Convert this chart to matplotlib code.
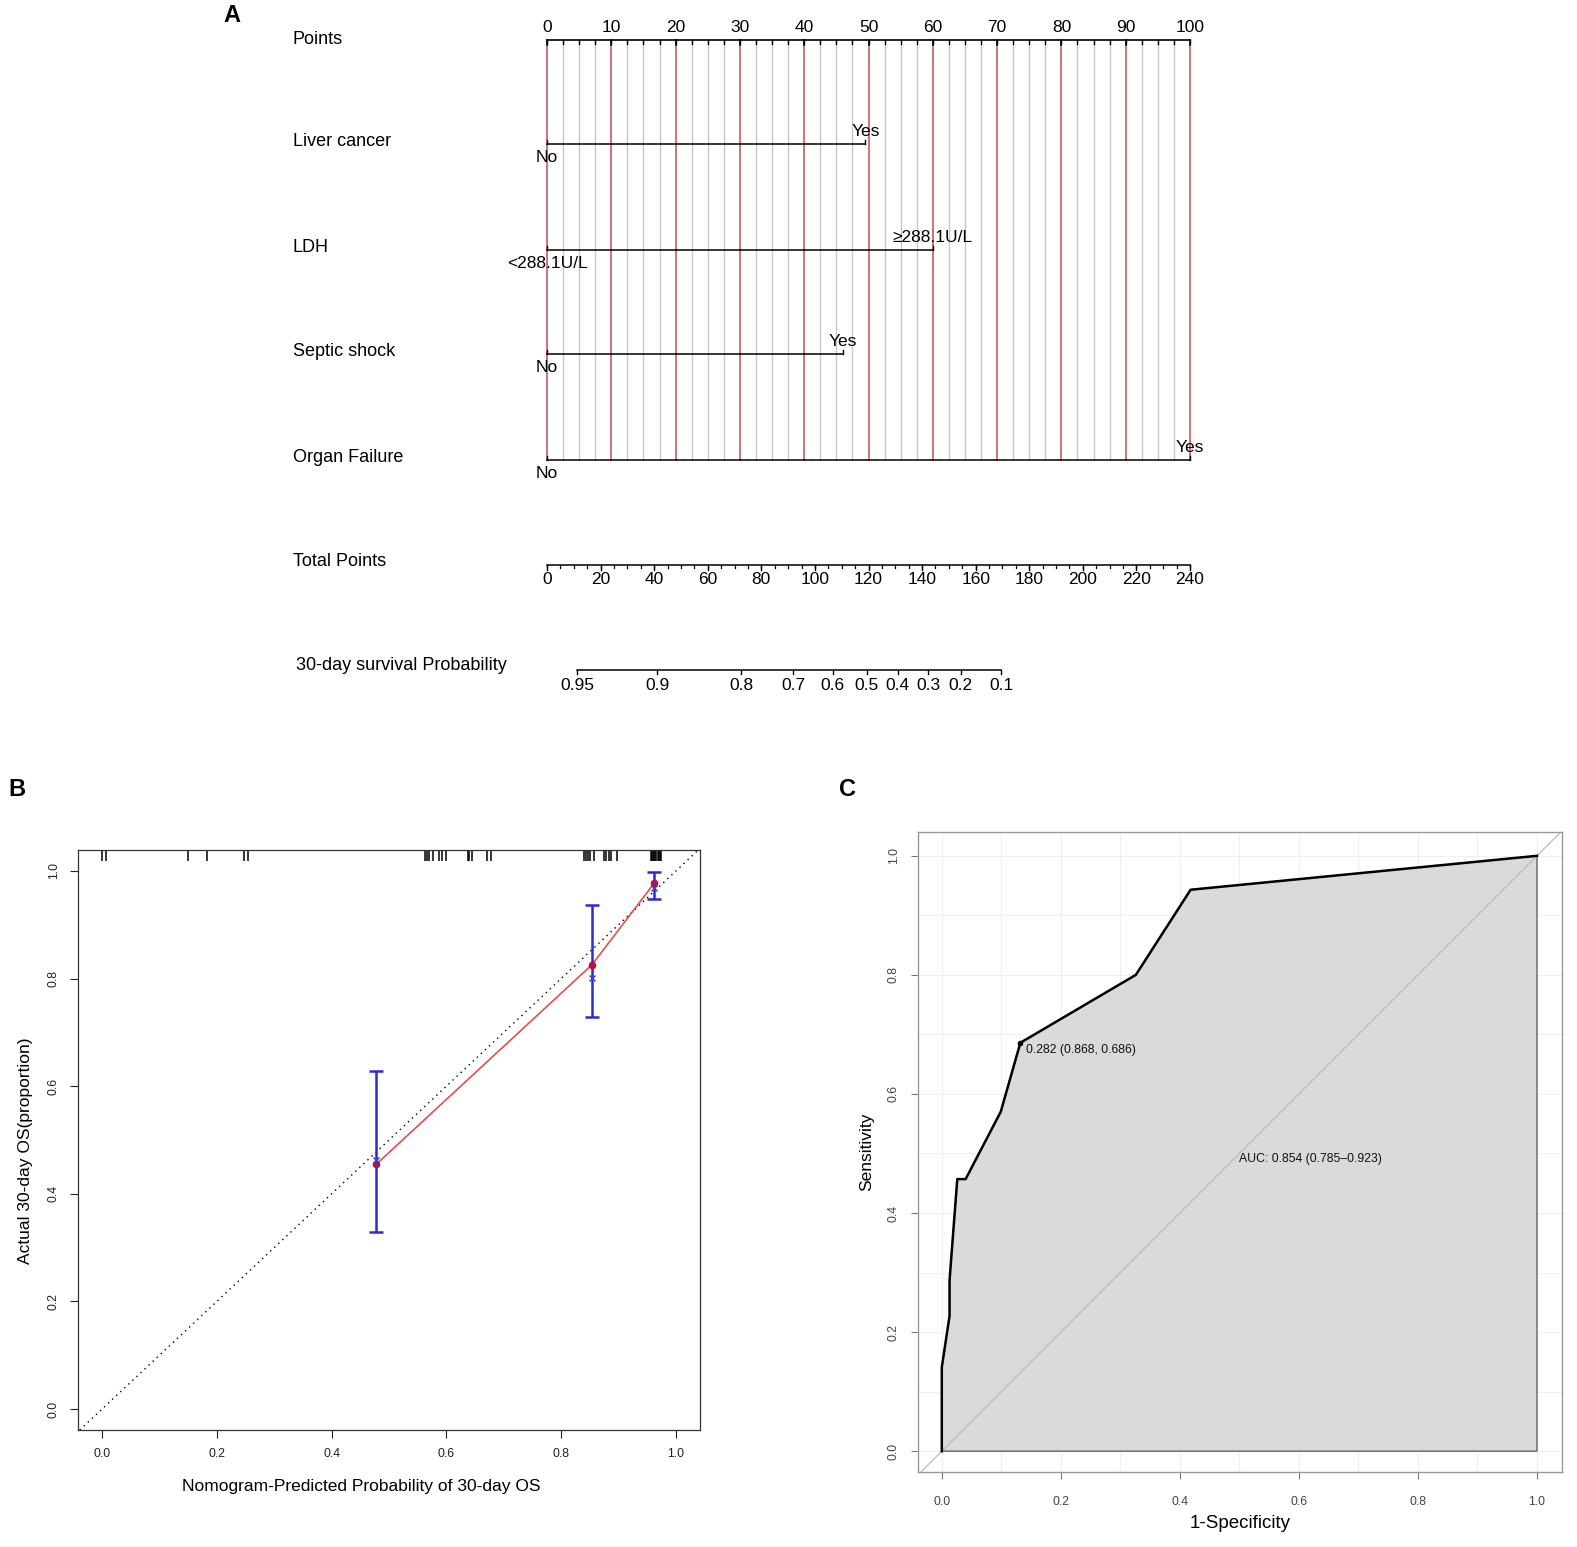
import matplotlib
matplotlib.use("Agg")
import matplotlib.pyplot as plt
import numpy as np

plt.rcParams['font.family'] = ['Liberation Sans', 'DejaVu Sans']

# ---------------- data ----------------
# Panel A nomogram
variables = ["Liver cancer", "LDH", "Septic shock", "Organ Failure"]
level_low = ["No", "<288.1U/L", "No", "No"]
level_high = ["Yes", "≥288.1U/L", "Yes", "Yes"]
points_high = [49.5, 60.0, 46.0, 100.0]
points_ticks = list(range(0, 101, 10))
total_ticks = list(range(0, 241, 20))
total_max = 240
surv_probs = ["0.95", "0.9", "0.8", "0.7", "0.6", "0.5", "0.4", "0.3", "0.2", "0.1"]
surv_total_pts = [11.3, 41.2, 72.4, 91.9, 106.6, 119.3, 130.9, 142.3, 154.4, 169.5]

# Panel B calibration
cal_pred = [0.478, 0.854, 0.962]
cal_obs = [0.455, 0.826, 0.977]
cal_lo = [0.329, 0.729, 0.948]
cal_hi = [0.628, 0.936, 0.998]
cal_bc = [0.463, 0.801, 0.968]
rug_pred = [0.000, 0.007, 0.150, 0.183, 0.247, 0.254,
            0.562, 0.566, 0.570, 0.576, 0.588, 0.593, 0.600, 0.637, 0.640, 0.645,
            0.670, 0.677, 0.840, 0.843, 0.846, 0.850, 0.857, 0.875, 0.879, 0.883,
            0.887, 0.897, 0.956, 0.958, 0.960, 0.962, 0.964, 0.966, 0.968, 0.970,
            0.972, 0.974]

# Panel C ROC
roc_fpr = [0.0, 0.0, 0.013, 0.013, 0.026, 0.040, 0.099, 0.132, 0.326, 0.418, 1.0]
roc_tpr = [0.0, 0.141, 0.227, 0.287, 0.457, 0.457, 0.570, 0.686, 0.800, 0.943, 1.0]
best_fpr, best_tpr = 0.132, 0.686
best_label = "0.282 (0.868, 0.686)"
auc_label = "AUC: 0.854 (0.785–0.923)"

W, H = 1577, 1547
fig = plt.figure(figsize=(W / 100, H / 100), dpi=100)

# ---------------- Panel A ----------------
topH = 760
axA = fig.add_axes([0, 1 - topH / H, 1, topH / H])
px0, ppp = 547.0, 6.43  # pixel of 0 points, pixels per point
axA.set_xlim((0 - px0) / ppp, (W - px0) / ppp)
axA.set_ylim(topH, 0)
axA.axis('off')

y_points = 40
y_rows = [144, 250, 354, 460]
y_total = 565
y_surv = 670
lab_x = (293 - px0) / ppp
fs_lab = 13
fs_tick = 12.5

# grid lines
for v in np.arange(0, 100.01, 2.5):
    if abs(v % 10) < 1e-9:
        continue
    axA.plot([v, v], [y_points, y_rows[-1]], color='#c8c8c8', lw=1.0, zorder=1)
for v in points_ticks:
    axA.plot([v, v], [y_points, y_rows[-1]], color='#c0504d', lw=1.1, zorder=2)

# points axis
axA.text(lab_x, y_points, "Points", fontsize=fs_lab, va='center', ha='left')
axA.plot([0, 100], [y_points, y_points], color='black', lw=1.2, zorder=3)
for v in np.arange(0, 100.01, 2.5):
    axA.plot([v, v], [y_points, y_points + 4], color='black', lw=1.0, zorder=3)
for v in points_ticks:
    axA.plot([v, v], [y_points, y_points + 5], color='black', lw=1.1, zorder=3)
    axA.text(v, y_points - 12, str(v), fontsize=fs_tick, ha='center', va='center')

# variable rows
for name, lo, hi, ph, yy in zip(variables, level_low, level_high, points_high, y_rows):
    axA.text(lab_x, yy - 3, name, fontsize=fs_lab, va='center', ha='left')
    axA.plot([0, ph], [yy, yy], color='black', lw=1.1, zorder=3)
    axA.plot([0, 0], [yy, yy - 4], color='black', lw=1.0, zorder=3)
    axA.plot([ph, ph], [yy, yy - 4], color='black', lw=1.0, zorder=3)
    axA.text(0, yy + 14, lo, fontsize=fs_tick, ha='center', va='center')
    axA.text(ph, yy - 12, hi, fontsize=fs_tick, ha='center', va='center')

# total points axis
sc = 100.0 / total_max
axA.text(lab_x, y_total - 4, "Total Points", fontsize=fs_lab, va='center', ha='left')
axA.plot([0, total_max * sc], [y_total, y_total], color='black', lw=1.1)
for v in range(0, total_max + 1, 5):
    axA.plot([v * sc, v * sc], [y_total, y_total + 3], color='black', lw=0.9)
for v in total_ticks:
    axA.plot([v * sc, v * sc], [y_total, y_total + 5], color='black', lw=1.0)
    axA.text(v * sc, y_total + 14, str(v), fontsize=fs_tick, ha='center', va='center')

# survival probability axis
axA.text((296 - px0) / ppp, y_surv - 4, "30-day survival Probability", fontsize=fs_lab,
         va='center', ha='left')
sp = [t * sc for t in surv_total_pts]
axA.plot([sp[0], sp[-1]], [y_surv, y_surv], color='black', lw=1.1)
for p, lab in zip(sp, surv_probs):
    axA.plot([p, p], [y_surv, y_surv + 4], color='black', lw=1.0)
    axA.text(p, y_surv + 15, lab, fontsize=fs_tick, ha='center', va='center')

fig.text(232 / W, 1 - 15 / H, "A", fontsize=17, fontweight='bold', ha='center', va='center')
fig.text(17 / W, 1 - 789 / H, "B", fontsize=17, fontweight='bold', ha='center', va='center')
fig.text(848 / W, 1 - 789 / H, "C", fontsize=17, fontweight='bold', ha='center', va='center')

# ---------------- Panel B ----------------
bl, br, bt, bb = 78, 700, 850, 1430
axB = fig.add_axes([bl / W, 1 - bb / H, (br - bl) / W, (bb - bt) / H])
axB.set_xlim(-0.042, 1.042)
axB.set_ylim(-0.039, 1.039)
axB.axline((0, 0), (1, 1), color='black', lw=1.0, ls=(0, (1, 3)))
axB.plot(cal_pred, cal_obs, color='#e0504a', lw=1.2)
axB.errorbar(cal_pred, cal_obs,
             yerr=[np.array(cal_obs) - np.array(cal_lo), np.array(cal_hi) - np.array(cal_obs)],
             fmt='none', ecolor='#2b2bd0', elinewidth=1.8, capsize=5, capthick=1.8)
axB.plot(cal_pred, cal_obs, 'o', color='#b0124e', ms=4.5, zorder=5)
axB.plot(cal_pred, cal_bc, 'x', color='#3a3ae0', ms=4, mew=1.0, zorder=5)
axB.vlines(rug_pred, 1.018, 1.037, color='black', lw=1.1)
ticksB = [0.0, 0.2, 0.4, 0.6, 0.8, 1.0]
axB.set_xticks(ticksB)
axB.set_xticklabels([f"{t:.1f}" for t in ticksB])
axB.set_yticks(ticksB)
axB.set_yticklabels([f"{t:.1f}" for t in ticksB], rotation=90, va='center')
axB.tick_params(length=6, width=0.8, labelsize=8.8, pad=7, colors='#222222')
for s in axB.spines.values():
    s.set_linewidth(0.9)
    s.set_color('#333333')
axB.set_xlabel("Nomogram-Predicted Probability of 30-day OS", fontsize=12.5)
axB.set_ylabel("Actual 30-day OS(proportion)", fontsize=12.5)
axB.xaxis.set_label_coords((361 - bl) / (br - bl), -(1487 - bb) / (bb - bt), transform=axB.transAxes)
axB.yaxis.set_label_coords(-(bl - 25) / (br - bl), (bb - 1151) / (bb - bt), transform=axB.transAxes)
axB.xaxis.label.set_va('center')
axB.yaxis.label.set_va('center')

# ---------------- Panel C ----------------
cl, cr, ct, cb = 918, 1562, 832, 1472
axC = fig.add_axes([cl / W, 1 - cb / H, (cr - cl) / W, (cb - ct) / H])
axC.set_xlim(-0.04, 1.042)
axC.set_ylim(-0.035, 1.04)
for g in np.arange(0, 1.01, 0.1):
    axC.axvline(g, color='#f0f0f0', lw=0.8, zorder=0)
    axC.axhline(g, color='#f0f0f0', lw=0.8, zorder=0)
poly_x = roc_fpr + [1.0, 0.0]
poly_y = roc_tpr + [0.0, 0.0]
axC.fill(poly_x, poly_y, facecolor='#dadada', edgecolor='#555555', lw=0.9, zorder=1)
axC.axline((0, 0), (1, 1), color='#bbbbbb', lw=0.9, zorder=2)
axC.plot(roc_fpr, roc_tpr, color='black', lw=1.8, zorder=3)
axC.plot([best_fpr], [best_tpr], 'o', color='black', ms=3, zorder=4)
axC.text(best_fpr + 0.01, best_tpr - 0.012, best_label, fontsize=8.8, ha='left', va='center',
         color='#111111')
axC.text(0.62, 0.49, auc_label, fontsize=8.8, ha='center', va='center', color='#111111')
ticksC = [0.0, 0.2, 0.4, 0.6, 0.8, 1.0]
axC.set_xticks(ticksC)
axC.set_xticklabels([f"{t:.1f}" for t in ticksC])
axC.set_yticks(ticksC)
axC.set_yticklabels([f"{t:.1f}" for t in ticksC], rotation=90, va='center')
axC.tick_params(length=5, width=0.8, labelsize=8.8, colors='#777777',
                labelcolor='#444444')
axC.tick_params(axis='x', pad=12)
axC.tick_params(axis='y', pad=8)
for s in axC.spines.values():
    s.set_linewidth(1.0)
    s.set_color('#999999')
axC.set_xlabel("1-Specificity", fontsize=13.5, labelpad=5)
axC.set_ylabel("Sensitivity", fontsize=12.5, labelpad=10)

fig.savefig("out.png", dpi=100)
